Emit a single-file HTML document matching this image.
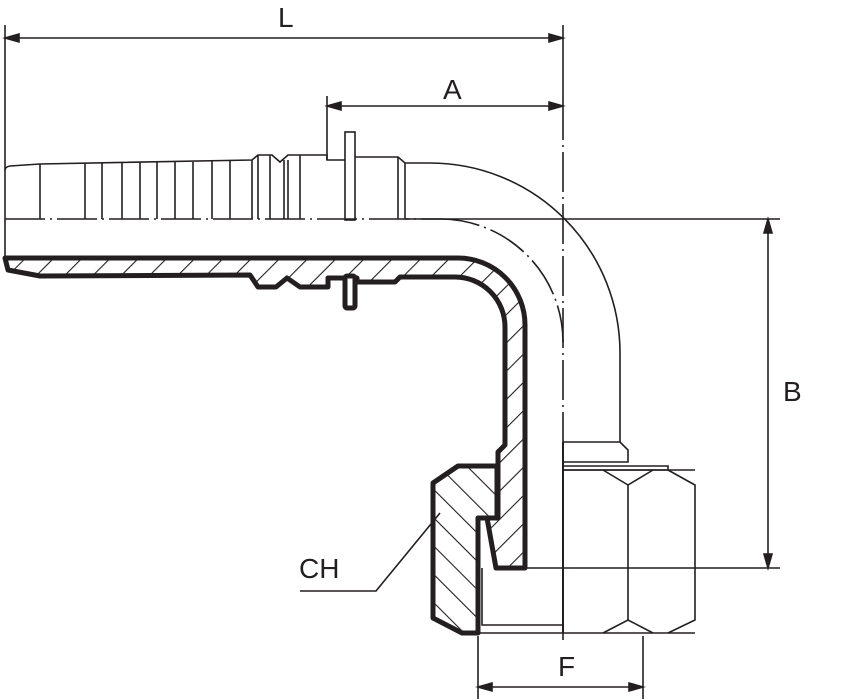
<!DOCTYPE html>
<html><head><meta charset="utf-8"><style>
html,body{margin:0;padding:0;background:#fff;}
svg{display:block;}
text{font-family:"Liberation Sans",sans-serif;font-size:28px;fill:#231f20;}
</style></head><body>
<svg width="856" height="699" viewBox="0 0 856 699" xmlns="http://www.w3.org/2000/svg">
<defs>
<pattern id="h1" patternUnits="userSpaceOnUse" width="20" height="20" patternTransform="rotate(45)"><line x1="0" y1="0" x2="0" y2="20" stroke="#231f20" stroke-width="2.2"/></pattern>
<pattern id="h2" patternUnits="userSpaceOnUse" width="20" height="20" patternTransform="rotate(-45)"><line x1="0" y1="0" x2="0" y2="20" stroke="#231f20" stroke-width="2.2"/></pattern>
</defs>
<g stroke="#231f20" fill="none" stroke-width="1.6">
<!-- dimension L -->
<line x1="5" y1="25" x2="5" y2="168"/>
<line x1="563" y1="25" x2="563" y2="100"/>
<line x1="5" y1="38" x2="563" y2="38"/>
<path d="M19,34 L5,38 L19,42Z M549,34 L563,38 L549,42Z" fill="#231f20"/>
<!-- A -->
<line x1="327" y1="96" x2="327" y2="160"/>
<line x1="327" y1="106" x2="563" y2="106"/>
<path d="M341,102 L327,106 L341,110Z M549,102 L563,106 L549,110Z" fill="#231f20"/>
<!-- B -->
<line x1="405" y1="219" x2="780" y2="219"/>
<line x1="525" y1="568" x2="780" y2="568"/>
<line x1="768" y1="219" x2="768" y2="568"/>
<path d="M764,233 L768,219 L772,233Z M764,554 L768,568 L772,554Z" fill="#231f20"/>
<!-- F -->
<line x1="478" y1="636" x2="478" y2="699"/>
<line x1="643" y1="636" x2="643" y2="699"/>
<line x1="478" y1="687" x2="643" y2="687"/>
<path d="M492,683 L478,687 L492,691Z M629,683 L643,687 L629,691Z" fill="#231f20"/>
<!-- CH leader -->
<polyline points="300,591 376,591 440,513"/>
<!-- centerlines -->
<line x1="5" y1="219" x2="440" y2="219" stroke-dasharray="40,5,2,5"/>
<path d="M440,219 A123,123 0 0 1 563,342" stroke-dasharray="40,5,2,5"/>
<line x1="563" y1="100" x2="563" y2="640" stroke-dasharray="40,5,2,5"/>
<!-- outer hose body -->
<path d="M5,170 Q5,167 10,166 L40,164 L252,160 L258,155 L272,155 L280,162 L288,155 L327,155 L327,160 L345,160 M355,157 L398,157 L405,163 L430,163 A190,190 0 0 1 620,353 L620,442"/>
<rect x="345" y="132" width="10" height="88"/>
<g>
<line x1="40" y1="164" x2="40" y2="219"/><line x1="85" y1="163" x2="85" y2="219"/><line x1="102" y1="163" x2="102" y2="219"/>
<line x1="122" y1="163" x2="122" y2="219"/><line x1="140" y1="162" x2="140" y2="219"/><line x1="157" y1="162" x2="157" y2="219"/>
<line x1="175" y1="162" x2="175" y2="219"/><line x1="193" y1="162" x2="193" y2="219"/><line x1="212" y1="161" x2="212" y2="219"/>
<line x1="230" y1="161" x2="230" y2="219"/><line x1="252" y1="160" x2="252" y2="219"/><line x1="258" y1="155" x2="258" y2="219"/>
<line x1="270" y1="155" x2="270" y2="219"/><line x1="284" y1="160" x2="284" y2="219"/><line x1="288" y1="160" x2="288" y2="219"/>
<line x1="300" y1="155" x2="300" y2="219"/><line x1="398" y1="157" x2="398" y2="219"/><line x1="405" y1="163" x2="405" y2="219"/>
</g>
<line x1="5" y1="168" x2="5" y2="258"/>
<!-- hose section hatch -->
<path d="M5,258 L458,258 A67,67 0 0 1 525,325 L525,568 L496,568 L487,518 L498,518 L498,452 L505,445 L505,327 A50,50 0 0 0 455,277 L400,277 L395,282 L357,282 L357,278 L328,278 L328,287 L300,287 L287,278 L276,287 L258,287 L250,275 L40,276 L8,270 Z" fill="url(#h1)" stroke="#231f20" stroke-width="5" stroke-linejoin="round"/>
<rect x="345" y="276" width="10" height="32" rx="2" fill="#fff" stroke-width="5"/>
<!-- nut section -->
<path d="M433,483 L458,466 L497,466 L497,518 L478,518 L478,633 L462,633 L433,618 Z" fill="url(#h2)" stroke="#231f20" stroke-width="5" stroke-linejoin="round"/>
<!-- nut right view -->
<path d="M482,568 L482,625 L563,625 M478,633 L563,633"/>
<path d="M563,442 L620,442 L628,450 L628,462 L563,462"/>
<path d="M563,466 L668,466 L668,470 L563,470"/>
<path d="M563,470 L695,470 M563,633 L695,633"/>
<path d="M668,470 L695,485 L695,620 L668,633"/>
<path d="M603,470 L628,485 L653,470 M603,633 L628,620 L653,633"/>
<line x1="628" y1="485" x2="628" y2="620"/>
<line x1="563" y1="442" x2="563" y2="633" stroke-width="2"/>
</g>
<text x="278" y="27">L</text>
<text x="443" y="99">A</text>
<text x="783" y="401">B</text>
<text x="558" y="676">F</text>
<text x="299" y="578">CH</text>
</svg>
</body></html>
